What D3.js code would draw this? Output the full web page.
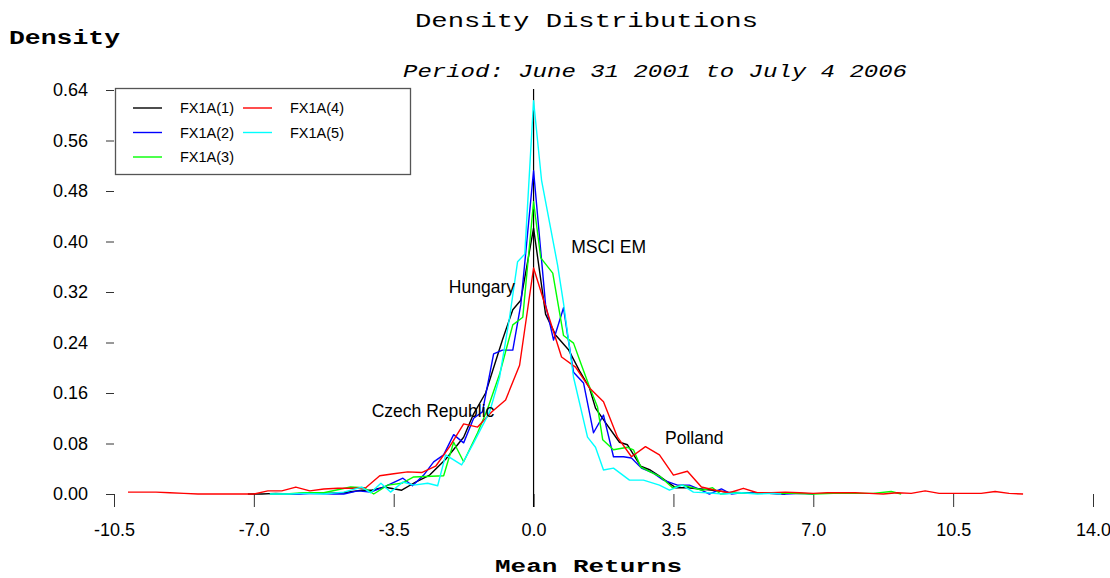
<!DOCTYPE html>
<html>
<head>
<meta charset="utf-8">
<script src="https://cdn.jsdelivr.net/npm/d3@7"></script>
<style>
  html, body { margin: 0; padding: 0; background: #ffffff; }
  svg { display: block; }
</style>
</head>
<body>
<svg id="chart" width="1110" height="578"></svg>
<script>
// ---------------- data ----------------
const xTicks = [-10.5, -7.0, -3.5, 0.0, 3.5, 7.0, 10.5, 14.0];
const xTickLabels = ["-10.5", "-7.0", "-3.5", "0.0", "3.5", "7.0", "10.5", "14.0"];
const yTicks = [0, 0.08, 0.16, 0.24, 0.32, 0.40, 0.48, 0.56, 0.64];
const yTickLabels = ["0.00", "0.08", "0.16", "0.24", "0.32", "0.40", "0.48", "0.56", "0.64"];

const seriesNames = ["FX1A(1)", "FX1A(2)", "FX1A(3)", "FX1A(4)", "FX1A(5)"];
const seriesColors = ["#000000", "#0000ff", "#00ff00", "#ff0000", "#00ffff"];

const fx1X = [-7.15, -6.8, -6.45, -6.1, -5.75, -5.25, -4.75, -4.3, -4.05, -3.75, -3.3, -2.95, -2.6, -2.2, -1.75, -1.5, -1.2,
  -0.78, -0.52, -0.32, 0, 0.3, 0.55, 0.88, 1.15, 1.4, 1.55, 1.8, 2.15, 2.35, 2.68, 2.92, 3.18, 3.55, 3.85, 4.18, 4.5, 4.85,
  5.2, 5.55, 5.9, 6.3];
const fx1Y = [0.000, 0.000, 0.001, 0.000, 0.001, 0.001, 0.002, 0.006, 0.006, 0.011, 0.006, 0.019, 0.030, 0.055, 0.090, 0.127, 0.160,
  0.244, 0.292, 0.307, 0.421, 0.285, 0.252, 0.228, 0.195, 0.168, 0.136, 0.113, 0.082, 0.078, 0.044, 0.038, 0.027, 0.010, 0.010, 0.008, 0.006, 0.003,
  0.002, 0.001, 0.001, 0.000];

const fx2X = [-6.6, -6.2, -5.85, -5.5, -5.0, -4.75, -4.4, -4.08, -3.75, -3.27, -3.03, -2.75, -2.5, -2.25, -2.0, -1.75, -1.5, -1.28,
  -1.0, -0.78, -0.52, -0.32, 0, 0.3, 0.5, 0.75, 0.85, 1.0, 1.25, 1.5, 1.75, 2.0, 2.25, 2.45, 2.7, 3.0, 3.25, 3.6, 3.9, 4.2, 4.4,
  4.7, 4.95, 5.2, 5.5, 5.9, 6.3, 6.7, 7.0];
const fx2Y = [0.000, 0.000, 0.000, 0.001, 0.000, 0.000, 0.005, 0.003, 0.011, 0.025, 0.013, 0.030, 0.051, 0.062, 0.094, 0.081, 0.120, 0.130,
  0.222, 0.228, 0.228, 0.300, 0.512, 0.300, 0.244, 0.295, 0.252, 0.193, 0.176, 0.097, 0.125, 0.059, 0.059, 0.057, 0.041, 0.033, 0.022, 0.014, 0.014, 0.006, 0.000,
  0.008, 0.000, 0.002, 0.002, 0.001, 0.000, 0.001, 0.000];

const fx3X = [-6.6, -6.2, -5.75, -5.25, -4.58, -4.25, -4.0, -3.65, -3.3, -3.0, -2.25, -2.0, -1.75, -1.4, -1.15, -0.85, -0.52, -0.27,
  0, 0.18, 0.48, 0.75, 1.0, 1.2, 1.38, 1.6, 1.73, 2.0, 2.35, 2.5, 2.68, 2.92, 3.18, 3.48, 3.72, 3.98, 4.22, 4.48, 4.68,
  5.0, 5.5, 6.0, 6.5, 7.0, 7.5, 8.0, 8.5, 8.95, 9.2];
const fx3Y = [0.000, 0.000, 0.002, 0.002, 0.011, 0.010, 0.000, 0.014, 0.017, 0.027, 0.029, 0.082, 0.051, 0.097, 0.135, 0.190, 0.268, 0.280,
  0.463, 0.374, 0.350, 0.251, 0.239, 0.204, 0.173, 0.138, 0.086, 0.070, 0.074, 0.070, 0.043, 0.035, 0.027, 0.010, 0.014, 0.010, 0.006, 0.010, 0.000,
  0.002, 0.001, 0.001, 0.001, 0.000, 0.001, 0.001, 0.001, 0.004, 0.000];

const fx4X = [-10.15, -9.8, -9.45, -9.1, -8.75, -8.4, -8.05, -7.7, -7.35, -7.0,
  -6.65, -6.3, -5.95, -5.6, -5.25, -4.9, -4.55, -4.2, -3.85, -3.5,
  -3.15, -2.8, -2.45, -2.1, -1.75, -1.4, -1.05, -0.7, -0.35, 0,
  0.35, 0.7, 1.05, 1.4, 1.75, 2.1, 2.45, 2.8, 3.15, 3.5,
  3.85, 4.2, 4.55, 4.9, 5.25, 5.6, 5.95, 6.3, 6.65, 7.0,
  7.35, 7.7, 8.05, 8.4, 8.75, 9.1, 9.45, 9.8, 10.15, 10.5,
  10.85, 11.2, 11.55, 11.9, 12.25];
const fx4Y = [0.003, 0.003, 0.003, 0.002, 0.001, 0.000, 0.000, 0.000, 0.000, 0.000,
  0.005, 0.005, 0.011, 0.005, 0.008, 0.009, 0.009, 0.010, 0.029, 0.032,
  0.035, 0.034, 0.044, 0.075, 0.111, 0.106, 0.130, 0.149, 0.204, 0.358,
  0.287, 0.217, 0.201, 0.168, 0.146, 0.090, 0.059, 0.075, 0.062, 0.030,
  0.036, 0.011, 0.006, 0.002, 0.009, 0.002, 0.002, 0.003, 0.002, 0.001,
  0.002, 0.002, 0.002, 0.001, 0.000, 0.002, 0.001, 0.005, 0.001, 0.001,
  0.001, 0.001, 0.004, 0.001, 0.000];

const fx5X = [-6.6, -6.1, -5.75, -5.25, -4.75, -4.3, -4.08, -3.82, -3.58, -3.27, -3.0, -2.65, -2.4, -2.2, -1.8, -1.5, -1.1, -0.85,
  -0.6, -0.4, -0.22, 0, 0.2, 0.6, 0.75, 1.0, 1.35, 1.55, 1.75, 2.0, 2.4, 2.75, 3.15, 3.4, 3.72, 4.0, 4.35, 4.75, 5.2, 5.6, 6.0, 6.2];
const fx5Y = [0.000, 0.000, 0.001, 0.000, 0.003, 0.011, 0.002, 0.017, 0.003, 0.019, 0.014, 0.017, 0.013, 0.062, 0.046, 0.081, 0.130, 0.185,
  0.280, 0.368, 0.380, 0.623, 0.497, 0.363, 0.302, 0.185, 0.090, 0.074, 0.038, 0.041, 0.022, 0.022, 0.014, 0.006, 0.014, 0.003, 0.002, 0.000, 0.002, 0.000, 0.001, 0.000];

const annotations = [
  { text: "MSCI EM", x: 0.94, y: 0.391 },
  { text: "Hungary", x: -2.12, y: 0.328 },
  { text: "Czech Republic", x: -4.05, y: 0.131 },
  { text: "Polland", x: 3.29, y: 0.089 }
];

// ---------------- drawing ----------------
const svg = d3.select("#chart");
const x = d3.scaleLinear().domain([-10.5, 14]).range([114, 1093]);
const y = d3.scaleLinear().domain([0, 0.64]).range([494, 90]);

const series = [
  { xs: fx1X, ys: fx1Y },
  { xs: fx2X, ys: fx2Y },
  { xs: fx3X, ys: fx3Y },
  { xs: fx4X, ys: fx4Y },
  { xs: fx5X, ys: fx5Y }
].map((s, i) => ({
  name: seriesNames[i],
  color: seriesColors[i],
  points: s.xs.map((v, j) => [v, s.ys[j]])
}));

const mono = "'Liberation Mono', 'Courier New', monospace";
const sans = "'Liberation Sans', Arial, sans-serif";

// Titles
svg.append("text").attr("x", 415).attr("y", 27)
  .attr("textLength", 343).attr("lengthAdjust", "spacingAndGlyphs")
  .style("font-family", mono).style("font-size", "20px")
  .text("Density  Distributions");
svg.append("text").attr("x", 403).attr("y", 77)
  .attr("textLength", 504).attr("lengthAdjust", "spacingAndGlyphs")
  .style("font-family", mono).style("font-size", "19px").style("font-style", "italic")
  .text("Period: June 31 2001  to July 4 2006");
svg.append("text").attr("x", 9).attr("y", 44)
  .attr("textLength", 111).attr("lengthAdjust", "spacingAndGlyphs")
  .style("font-family", mono).style("font-size", "20px").style("font-weight", "bold")
  .text("Density");
svg.append("text").attr("x", 495).attr("y", 572)
  .attr("textLength", 187).attr("lengthAdjust", "spacingAndGlyphs")
  .style("font-family", mono).style("font-size", "19px").style("font-weight", "bold")
  .text("Mean Returns");

// Y axis (ticks only, no spine)
const yAxis = d3.axisLeft(y).tickValues(yTicks)
  .tickFormat((d, i) => yTickLabels[i]).tickSize(8).tickPadding(18);
const gy = svg.append("g").attr("transform", "translate(114,0)").call(yAxis);
gy.select(".domain").remove();
gy.selectAll(".tick line").attr("stroke", "#333").attr("stroke-width", 1);
gy.selectAll(".tick text").style("font-family", sans).style("font-size", "18px").attr("fill", "#000");

// X axis (ticks only, pointing down from baseline)
const xAxis = d3.axisBottom(x).tickValues(xTicks)
  .tickFormat((d, i) => xTickLabels[i]).tickSize(13).tickPadding(16);
const gx = svg.append("g").attr("transform", "translate(0,494)").call(xAxis);
gx.select(".domain").remove();
gx.selectAll(".tick line").attr("stroke", "#333").attr("stroke-width", 1);
gx.selectAll(".tick text").style("font-family", sans).style("font-size", "18px").attr("fill", "#000");

// zero reference line
svg.append("line")
  .attr("x1", x(0)).attr("x2", x(0))
  .attr("y1", y(0.64) - 1).attr("y2", y(0) + 13)
  .attr("stroke", "#000").attr("stroke-width", 1.2);

// Series lines
const line = d3.line().x(d => x(d[0])).y(d => y(d[1]));
svg.append("g").selectAll("path").data(series).join("path")
  .attr("d", d => line(d.points))
  .attr("fill", "none")
  .attr("stroke", d => d.color)
  .attr("stroke-width", 1.4)
  .attr("stroke-linejoin", "round");

// Annotations
svg.append("g").selectAll("text").data(annotations).join("text")
  .attr("x", d => x(d.x)).attr("y", d => y(d.y))
  .attr("dominant-baseline", "central")
  .style("font-family", sans).style("font-size", "17.5px")
  .text(d => d.text);

// Legend
const legend = svg.append("g");
legend.append("rect").attr("x", 115.5).attr("y", 88.5).attr("width", 295).attr("height", 86)
  .attr("fill", "#fff").attr("stroke", "#555").attr("stroke-width", 1.3);
const rowsPerCol = 3;
const items = legend.selectAll("g.item").data(series).join("g")
  .attr("class", "item")
  .attr("transform", (d, i) => {
    const col = Math.floor(i / rowsPerCol), row = i % rowsPerCol;
    return `translate(${133 + col * 110},${108 + row * 24.5})`;
  });
items.append("line").attr("x1", 0).attr("x2", 29).attr("y1", 0).attr("y2", 0)
  .attr("stroke", d => d.color).attr("stroke-width", 1.4);
items.append("text").attr("x", 47).attr("y", 0).attr("dominant-baseline", "central")
  .style("font-family", sans).style("font-size", "14.5px")
  .text(d => d.name);
</script>
</body>
</html>
